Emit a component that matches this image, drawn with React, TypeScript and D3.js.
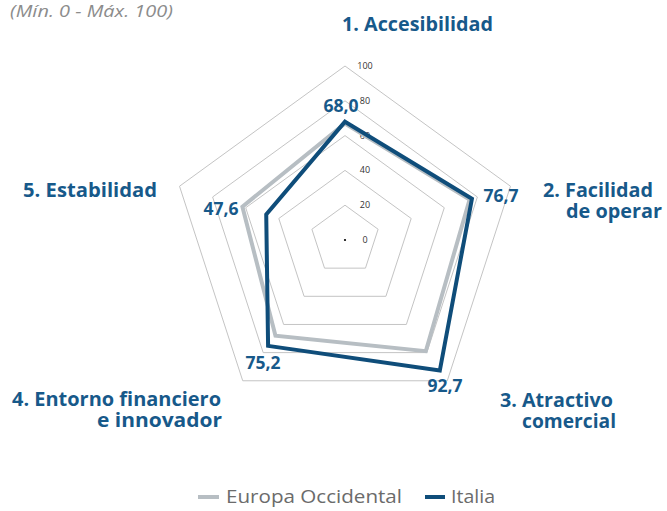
import React from "react";
import * as d3 from "d3";

const categories = ["1. Accesibilidad", "2. Facilidad de operar", "3. Atractivo comercial", "4. Entorno financiero e innovador", "5. Estabilidad"];
const europaOccidental = [67, 75.3, 79, 68, 62];
const italia = [68.0, 76.7, 92.7, 75.2, 47.6];
const italiaLabels = ["68,0", "76,7", "92,7", "75,2", "47,6"];
const ticks = [0, 20, 40, 60, 80, 100];
const seriesNames = ["Europa Occidental", "Italia"];

const W = 667, H = 511;
const cx = 345, cy = 240, R = 174;
const BLUE = "#0f4d7a";
const LABEL = "#17598a";
const GRAY = "#b7bec3";
const FONT = "'Open Sans', sans-serif";

export default function App() {
  const r = d3.scaleLinear().domain([0, 100]).range([0, R]);
  const angle = (i: number) => (i * 2 * Math.PI) / categories.length;
  const pt = (i: number, v: number): [number, number] => [
    cx + r(v) * Math.sin(angle(i)),
    cy - r(v) * Math.cos(angle(i)),
  ];
  const line = d3.line<[number, number]>().curve(d3.curveLinearClosed);
  const poly = (vals: number[]) => line(vals.map((v, i) => pt(i, v))) as string;

  const catLabels = [
    { lines: [{ t: "1. Accesibilidad", x: 342, y: 31, w: 151 }] },
    { lines: [{ t: "2. Facilidad", x: 543, y: 197, w: 110 }, { t: "de operar", x: 566, y: 218, w: 96 }] },
    { lines: [{ t: "3. Atractivo", x: 500, y: 407, w: 113 }, { t: "comercial", x: 522, y: 428, w: 94 }] },
    { lines: [{ t: "4. Entorno financiero", x: 12, y: 406, w: 209 }, { t: "e innovador", x: 97, y: 427, w: 125 }] },
    { lines: [{ t: "5. Estabilidad", x: 23, y: 197, w: 134 }] },
  ];
  const valPos = [
    { x: 341, y: 112 },
    { x: 501, y: 202 },
    { x: 445, y: 392 },
    { x: 263, y: 369 },
    { x: 221, y: 215 },
  ];

  return (
    <svg width={W} height={H} style={{ position: "absolute", left: 0, top: 0 }} fontFamily={FONT}>
      <rect width={W} height={H} fill="#fff" />
      <text x={10} y={17} fontSize={17} fontStyle="italic" fill="#8c8c8c" textLength={163} lengthAdjust="spacingAndGlyphs">(Mín. 0 - Máx. 100)</text>
      {ticks.filter((t) => t > 0).map((t) => (
        <path key={t} d={poly(categories.map(() => t))} fill="none" stroke="#c4c4c4" strokeWidth={1} />
      ))}
      {ticks.map((t) => (
        <text key={"t" + t} x={cx + 20} y={cy - r(t) + 3} fontSize={9} textAnchor="middle" fill="#333">{t}</text>
      ))}
      <circle cx={cx} cy={cy} r={1.1} fill="#000" />
      <path d={poly(europaOccidental)} fill="none" stroke={GRAY} strokeWidth={4} strokeLinejoin="miter" />
      <path d={poly(italia)} fill="none" stroke={BLUE} strokeWidth={4} strokeLinejoin="miter" />
      {italiaLabels.map((l, i) => (
        <text key={l} x={valPos[i].x} y={valPos[i].y} textAnchor="middle" fontSize={17} fontWeight="bold" fill={LABEL} textLength={35} lengthAdjust="spacingAndGlyphs">{l}</text>
      ))}
      {catLabels.map((c, i) => (
        <g key={i}>
          {c.lines.map((ln) => (
            <text key={ln.t} x={ln.x} y={ln.y} fontSize={19} fontWeight="bold" fill={LABEL} textLength={ln.w} lengthAdjust="spacingAndGlyphs">{ln.t}</text>
          ))}
        </g>
      ))}
      <g>
        <line x1={198} x2={219} y1={497} y2={497} stroke={GRAY} strokeWidth={4} />
        <text x={226} y={503} fontSize={18} fill="#6b6b6b" textLength={176} lengthAdjust="spacingAndGlyphs">{seriesNames[0]}</text>
        <line x1={425} x2={445} y1={497} y2={497} stroke={BLUE} strokeWidth={4} />
        <text x={451} y={503} fontSize={18} fill="#6b6b6b" textLength={44} lengthAdjust="spacingAndGlyphs">{seriesNames[1]}</text>
      </g>
    </svg>
  );
}
